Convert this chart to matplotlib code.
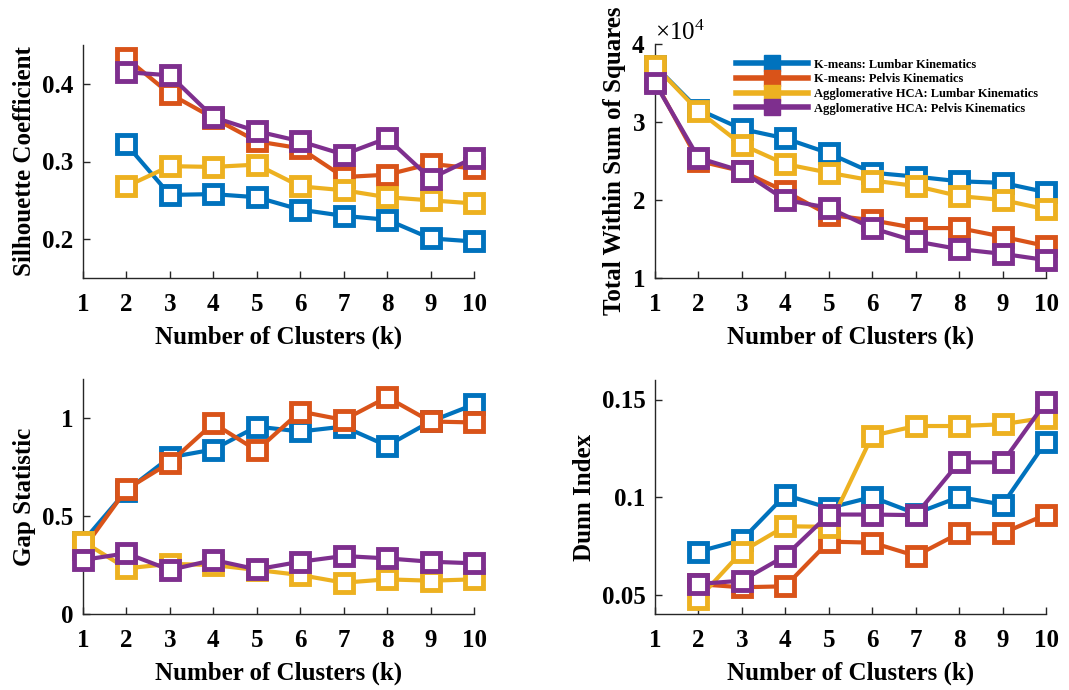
import numpy as np
import matplotlib
matplotlib.use('Agg')
import matplotlib.pyplot as plt
from matplotlib.lines import Line2D
from matplotlib.ticker import ScalarFormatter

plt.rcParams['font.family'] = 'Liberation Serif'
plt.rcParams['mathtext.fontset'] = 'custom'
plt.rcParams['mathtext.rm'] = 'Liberation Serif'

k = np.arange(1, 11)
k2 = np.arange(2, 11)

labels = ['K-means: Lumbar Kinematics', 'K-means: Pelvis Kinematics',
          'Agglomerative HCA: Lumbar Kinematics', 'Agglomerative HCA: Pelvis Kinematics']
colors = ['#0072BD', '#D95319', '#EDB120', '#7E2F8E']

# silhouette (k = 2..10)
sil_km_lumbar = [0.322, 0.257, 0.258, 0.254, 0.238, 0.230, 0.225, 0.201, 0.197]
sil_km_pelvis = [0.433, 0.387, 0.356, 0.326, 0.317, 0.280, 0.283, 0.297, 0.291]
sil_hca_lumbar = [0.268, 0.294, 0.293, 0.296, 0.268, 0.263, 0.254, 0.250, 0.246]
sil_hca_pelvis = [0.415, 0.411, 0.357, 0.339, 0.326, 0.309, 0.330, 0.278, 0.305]

# total within sum of squares (k = 1..10)
wss_km_lumbar = [37200, 31600, 29100, 27900, 26000, 23500, 23000, 22400, 22200, 21000]
wss_km_pelvis = [35200, 25000, 23700, 21100, 18100, 17400, 16400, 16400, 15300, 14100]
wss_hca_lumbar = [37200, 31400, 27100, 24600, 23500, 22500, 21800, 20500, 20000, 18800]
wss_hca_pelvis = [35000, 25400, 23700, 20000, 19000, 16400, 14700, 13700, 13100, 12300]

# gap statistic (k = 1..10)
gap_km_lumbar = [0.37, 0.63, 0.80, 0.84, 0.957, 0.932, 0.957, 0.859, 0.983, 1.07]
gap_km_pelvis = [0.33, 0.637, 0.773, 0.974, 0.835, 1.034, 0.991, 1.107, 0.983, 0.978]
gap_hca_lumbar = [0.37, 0.233, 0.256, 0.25, 0.225, 0.199, 0.160, 0.177, 0.170, 0.177]
gap_hca_pelvis = [0.276, 0.31, 0.225, 0.276, 0.228, 0.267, 0.296, 0.284, 0.267, 0.259]

# dunn index (k = 2..10)
dunn_km_lumbar = [0.072, 0.078, 0.101, 0.0944, 0.100, 0.0915, 0.100, 0.0961, 0.1283]
dunn_km_pelvis = [0.0553, 0.0537, 0.0542, 0.0771, 0.0766, 0.0698, 0.0814, 0.0814, 0.091]
dunn_hca_lumbar = [0.0478, 0.072, 0.085, 0.0847, 0.1314, 0.1364, 0.1364, 0.1373, 0.1407]
dunn_hca_pelvis = [0.0554, 0.0571, 0.0698, 0.091, 0.091, 0.0907, 0.1178, 0.1178, 0.1488]

W, H = 1069, 690
fig = plt.figure(figsize=(W / 100, H / 100), dpi=100)


def make_axes(l, r, t, b):
    return fig.add_axes([l / W, 1 - b / H, (r - l) / W, (b - t) / H])


def style(ax, ylabel, ylim, yticks, yticklabels):
    for s in ['top', 'right']:
        ax.spines[s].set_visible(False)
    for s in ['left', 'bottom']:
        ax.spines[s].set_color('#262626')
        ax.spines[s].set_linewidth(1.0)
    ax.set_xlim(1, 10)
    ax.set_xticks(range(1, 11))
    ax.set_ylim(*ylim)
    ax.set_yticks(yticks)
    if yticklabels is not None:
        ax.set_yticklabels(yticklabels)
    ax.tick_params(axis='both', direction='in', length=5, width=1, color='#262626',
                   labelsize=18)
    ax.tick_params(axis='x', pad=11)
    ax.tick_params(axis='y', pad=7)
    for t in ax.get_xticklabels() + ax.get_yticklabels():
        t.set_fontweight('bold')
    ax.set_xlabel('Number of Clusters (k)', fontsize=18, fontweight='bold', labelpad=7)
    ax.set_ylabel(ylabel, fontsize=18, fontweight='bold', labelpad=4)


def draw(ax, x, series):
    for y, c in zip(series, colors):
        ax.plot(x, y, color=c, lw=3, marker='s', ms=13, mfc='white', mec=c, mew=3.5,
                clip_on=False, zorder=3)


ax1 = make_axes(83, 474, 45, 278)
draw(ax1, k2, [sil_km_lumbar, sil_km_pelvis, sil_hca_lumbar, sil_hca_pelvis])
style(ax1, 'Silhouette Coefficient', (0.15, 0.45), [0.2, 0.3, 0.4], ['0.2', '0.3', '0.4'])

ax2 = make_axes(655, 1046, 44, 278)
draw(ax2, k, [wss_km_lumbar, wss_km_pelvis, wss_hca_lumbar, wss_hca_pelvis])
fmt = ScalarFormatter(useMathText=True)
fmt.set_powerlimits((0, 0))
ax2.yaxis.set_major_formatter(fmt)
style(ax2, 'Total Within Sum of Squares', (10000, 40000), [10000, 20000, 30000, 40000], None)
ax2.yaxis.get_offset_text().set_fontsize(18)
ax2.yaxis.get_offset_text().set_fontweight('normal')

handles = [Line2D([], [], color=c, lw=4, marker='s', ms=11, mfc=c, mec=c) for c in colors]
leg = ax2.legend(handles, labels, loc='upper right', bbox_to_anchor=(1.0, 0.97),
                 frameon=False, handlelength=5.8, prop={'size': 9, 'weight': 'bold'},
                 labelspacing=0.22, handletextpad=0.5, borderaxespad=0.2)

ax3 = make_axes(83, 474, 379, 614)
draw(ax3, k, [gap_km_lumbar, gap_km_pelvis, gap_hca_lumbar, gap_hca_pelvis])
style(ax3, 'Gap Statistic', (0, 1.2), [0, 0.5, 1], ['0', '0.5', '1'])

ax4 = make_axes(655, 1046, 380, 614)
draw(ax4, k2, [dunn_km_lumbar, dunn_km_pelvis, dunn_hca_lumbar, dunn_hca_pelvis])
style(ax4, 'Dunn Index', (0.04, 0.16), [0.05, 0.1, 0.15], ['0.05', '0.1', '0.15'])

fig.savefig('out.png', dpi=100)
